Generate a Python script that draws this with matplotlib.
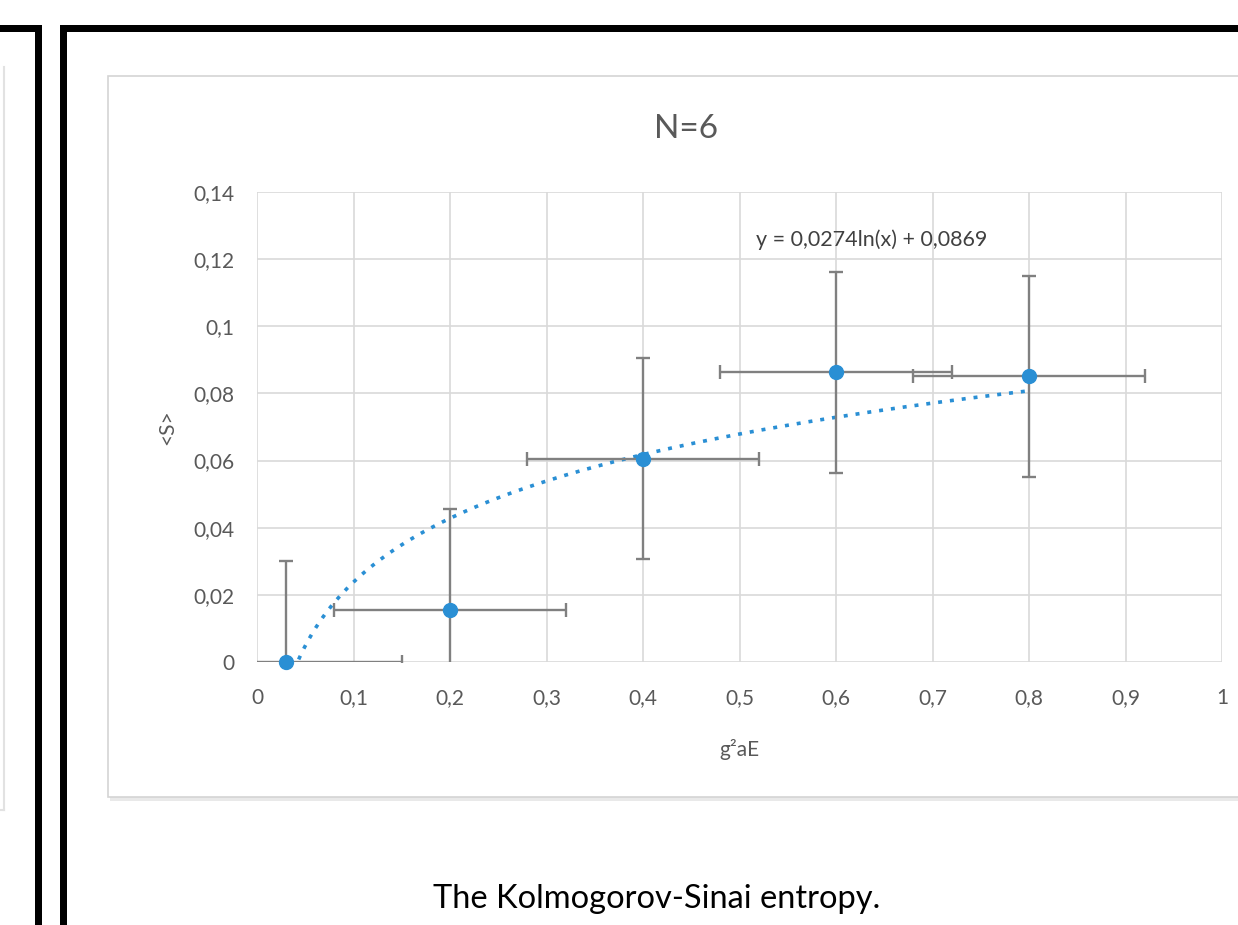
import matplotlib.pyplot as plt
from matplotlib.patches import Rectangle
from matplotlib.ticker import FuncFormatter, MultipleLocator
import numpy as np

# data
energy = [0.03, 0.2, 0.4, 0.6, 0.8]          # g^2 aE
entropy = [0.0, 0.0155, 0.0606, 0.0863, 0.0851]  # <S>
energy_err = [0.12, 0.12, 0.12, 0.12, 0.12]
entropy_err = [0.03, 0.03, 0.03, 0.03, 0.03]

# logarithmic trendline shown on the chart
TREND_A = 0.0274
TREND_B = 0.0869

plt.rcParams['font.family'] = ['Lato', 'DejaVu Sans']

BLUE = '#2a8fd4'
GREY_TXT = '#595959'
GRID = '#d9d9d9'

W, H = 1238, 925
fig = plt.figure(figsize=(W / 100, H / 100), dpi=100)

# slide background drawn in pixel coordinates
bg = fig.add_axes([0, 0, 1, 1])
bg.set_xlim(0, W)
bg.set_ylim(H, 0)
bg.axis('off')

bg.add_patch(Rectangle((0, 25), 42, 7, fc='black', ec='none'))
bg.add_patch(Rectangle((35, 25), 7, H - 25, fc='black', ec='none'))
bg.add_patch(Rectangle((60, 25), W - 60, 7, fc='black', ec='none'))
bg.add_patch(Rectangle((60, 25), 7, H - 25, fc='black', ec='none'))
bg.plot([4, 4], [67, 810], color='#e2e2e2', lw=1.5)
bg.plot([0, 4], [810, 810], color='#e2e2e2', lw=1.5)

# chart panel with a faint shadow
bg.add_patch(Rectangle((110, 78), W, 723, fc='#e9e9e9', ec='none'))
bg.add_patch(Rectangle((108, 76), W, 721, fc='white', ec='#d4d4d4', lw=1.2))

bg.text(686, 129, 'N=6', ha='center', va='center', fontsize=24, color=GREY_TXT)
bg.text(657, 908, 'The Kolmogorov-Sinai entropy.', ha='center', va='baseline',
        fontsize=23.5, color='black')

ax = fig.add_axes([257 / W, (H - 662) / H, 965 / W, 470 / H])
ax.set_facecolor('white')

ax.set_xlim(0, 1)
ax.set_ylim(0, 0.14)
ax.xaxis.set_major_locator(MultipleLocator(0.1))
ax.yaxis.set_major_locator(MultipleLocator(0.02))


def comma_fmt(v, pos):
    s = f"{v:.2f}".rstrip('0').rstrip('.')
    return s.replace('.', ',')


ax.xaxis.set_major_formatter(FuncFormatter(comma_fmt))
ax.yaxis.set_major_formatter(FuncFormatter(comma_fmt))
ax.tick_params(length=0, labelsize=15, labelcolor=GREY_TXT)
ax.tick_params(axis='x', pad=19)
ax.tick_params(axis='y', pad=16)
ax.grid(True, color=GRID, lw=1.2)
ax.set_axisbelow(True)
for side in ax.spines.values():
    side.set_visible(False)

xs = np.linspace(energy[0], energy[-1], 400)
ax.plot(xs, TREND_A * np.log(xs) + TREND_B, color=BLUE, lw=2.6,
        ls=(0, (1.1, 2.2)), zorder=2)

ax.errorbar(energy, entropy, xerr=energy_err, yerr=entropy_err, fmt='none',
            ecolor='#808080', elinewidth=1.7, capsize=5, capthick=1.7, zorder=3)
ax.plot(energy, entropy, 'o', color=BLUE, ms=10, zorder=4, clip_on=False)

ax.set_xlabel('g²aE', fontsize=15, color=GREY_TXT, va='center')
ax.xaxis.set_label_coords(0.5, (662 - 750) / 470)
ax.set_ylabel('<S>', fontsize=15, color=GREY_TXT, va='center')
ax.yaxis.set_label_coords((167 - 257) / 965, 0.5)

# trendline equation label, above the plot area
fig.text(872 / W, 1 - 240 / H, 'y = 0,0274ln(x) + 0,0869', ha='center',
         va='center', fontsize=15.5, color='#404040')

fig.savefig('out.png', dpi=100)
